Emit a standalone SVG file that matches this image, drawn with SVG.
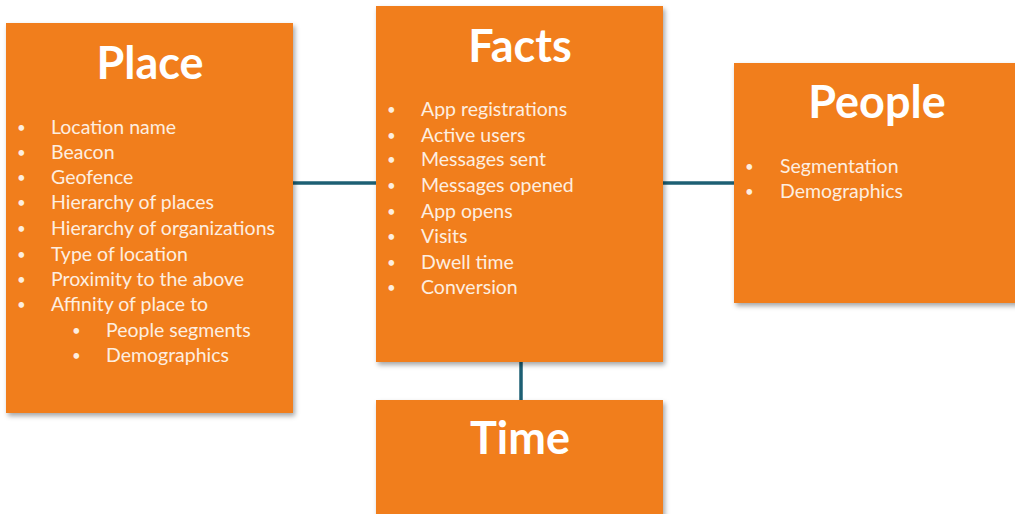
<svg xmlns="http://www.w3.org/2000/svg" width="1015" height="514" viewBox="0 0 1015 514">
<style>
.box{fill:#F17E1C;filter:url(#sh)}
.title{font-family:Lato,"Open Sans",sans-serif;font-weight:bold;font-size:45px;fill:#fff;text-anchor:middle}
.item{font-family:Lato,"Open Sans",sans-serif;font-size:19.5px;fill:#FDEEE0}
.bul{font-family:Lato,"Open Sans",sans-serif;font-size:15px;fill:#FDEEE0}
.conn{stroke:#1D5F73;stroke-width:3.5;fill:none}
</style>
<defs>
<filter id="sh" x="-5%" y="-5%" width="115%" height="115%">
<feDropShadow dx="2" dy="3" stdDeviation="2.5" flood-color="#000" flood-opacity="0.35"/>
</filter>
</defs>
<rect width="1015" height="514" fill="#fff"/>
<g id="connectors">
<line class="conn" x1="293" y1="183" x2="376" y2="183"/>
<line class="conn" x1="663" y1="183" x2="734" y2="183"/>
<line class="conn" x1="521" y1="362" x2="521" y2="400"/>
</g>
<g id="place">
<rect class="box" x="6" y="23" width="287" height="390"/>
<text class="title" x="150" y="79">Place</text>
<g class="bul">
<text x="17" y="133">•</text><text x="17" y="158">•</text><text x="17" y="183">•</text><text x="17" y="208">•</text><text x="17" y="234">•</text><text x="17" y="260">•</text><text x="17" y="285">•</text><text x="17" y="310">•</text><text x="72" y="336">•</text><text x="72" y="361">•</text>
</g>
<g class="item">
<text x="51" y="134">Location name</text>
<text x="51" y="159">Beacon</text>
<text x="51" y="184">Geofence</text>
<text x="51" y="209">Hierarchy of places</text>
<text x="51" y="235">Hierarchy of organizations</text>
<text x="51" y="261">Type of location</text>
<text x="51" y="286">Proximity to the above</text>
<text x="51" y="311">Affinity of place to</text>
<text x="106" y="337">People segments</text>
<text x="106" y="362">Demographics</text>
</g>
</g>
<g id="facts">
<rect class="box" x="376" y="6" width="287" height="356"/>
<text class="title" x="520" y="62">Facts</text>
<g class="bul">
<text x="387" y="115">•</text><text x="387" y="141">•</text><text x="387" y="165">•</text><text x="387" y="191">•</text><text x="387" y="217">•</text><text x="387" y="242">•</text><text x="387" y="268">•</text><text x="387" y="293">•</text>
</g>
<g class="item">
<text x="421" y="116">App registrations</text>
<text x="421" y="142">Active users</text>
<text x="421" y="166">Messages sent</text>
<text x="421" y="192">Messages opened</text>
<text x="421" y="218">App opens</text>
<text x="421" y="243">Visits</text>
<text x="421" y="269">Dwell time</text>
<text x="421" y="294">Conversion</text>
</g>
</g>
<g id="people">
<rect class="box" x="734" y="63" width="290" height="240"/>
<text class="title" x="877" y="118">People</text>
<g class="bul">
<text x="745" y="172">•</text><text x="745" y="197">•</text>
</g>
<g class="item">
<text x="780" y="173">Segmentation</text>
<text x="780" y="198">Demographics</text>
</g>
</g>
<g id="time">
<rect class="box" x="376" y="400" width="287" height="130"/>
<text class="title" x="520" y="454">Time</text>
</g>
</svg>
